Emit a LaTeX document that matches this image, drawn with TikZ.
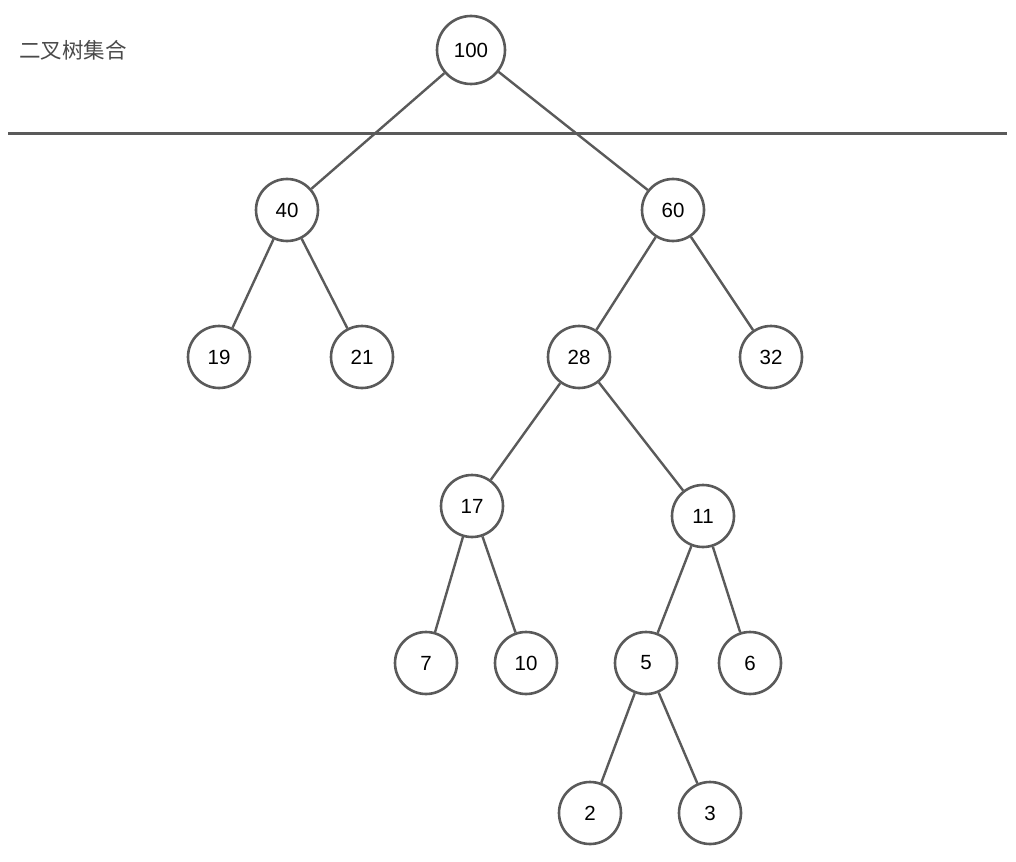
\documentclass[tikz,border=0pt]{standalone}
\usepackage{fontspec}
\setmainfont{Liberation Sans}
\newfontfamily\cjk{Noto Sans CJK SC}
\definecolor{linegrey}{HTML}{5A5A5A}
\definecolor{textgrey}{HTML}{4A4A4A}
\begin{document}
\begin{tikzpicture}[x=1pt,y=-1pt,
  tnode/.style={circle,draw=linegrey,line width=2.6pt,minimum size=62pt,inner sep=0pt,font=\fontsize{20.5}{24}\selectfont,text=black,fill=white},
  bignode/.style={tnode,minimum size=68pt},
  edge/.style={draw=linegrey,line width=2.4pt}]
\useasboundingbox (0,0) rectangle (1016,861);
\node[bignode] (n100) at (471,50) {100};
\node[tnode] (n40) at (287,210) {40};
\node[tnode] (n60) at (673,210) {60};
\node[tnode] (n19) at (219,357) {19};
\node[tnode] (n21) at (362,357) {21};
\node[tnode] (n28) at (579,357) {28};
\node[tnode] (n32) at (771,357) {32};
\node[tnode] (n17) at (472,506) {17};
\node[tnode] (n11) at (703,516) {11};
\node[tnode] (n7) at (426,663) {7};
\node[tnode] (n10) at (526,663) {10};
\node[tnode] (n5) at (646,663) {5};
\node[tnode] (n6) at (750,663) {6};
\node[tnode] (n2) at (590,813) {2};
\node[tnode] (n3) at (710,813) {3};
\coordinate (sepL) at (8,133.5);
\coordinate (sepR) at (1007,133.5);
\draw[draw=linegrey,line width=3.6pt] (sepL) -- (sepR);
\draw[edge] (n100) -- (n40);
\draw[edge] (n100) -- (n60);
\draw[edge] (n40) -- (n19);
\draw[edge] (n40) -- (n21);
\draw[edge] (n60) -- (n28);
\draw[edge] (n60) -- (n32);
\draw[edge] (n28) -- (n17);
\draw[edge] (n28) -- (n11);
\draw[edge] (n17) -- (n7);
\draw[edge] (n17) -- (n10);
\draw[edge] (n11) -- (n5);
\draw[edge] (n11) -- (n6);
\draw[edge] (n5) -- (n2);
\draw[edge] (n5) -- (n3);
\node[anchor=west,inner sep=0pt,text=textgrey,font=\cjk\fontsize{21.5}{26}\selectfont] (title) at (19,50) {二叉树集合};
\end{tikzpicture}
\end{document}
